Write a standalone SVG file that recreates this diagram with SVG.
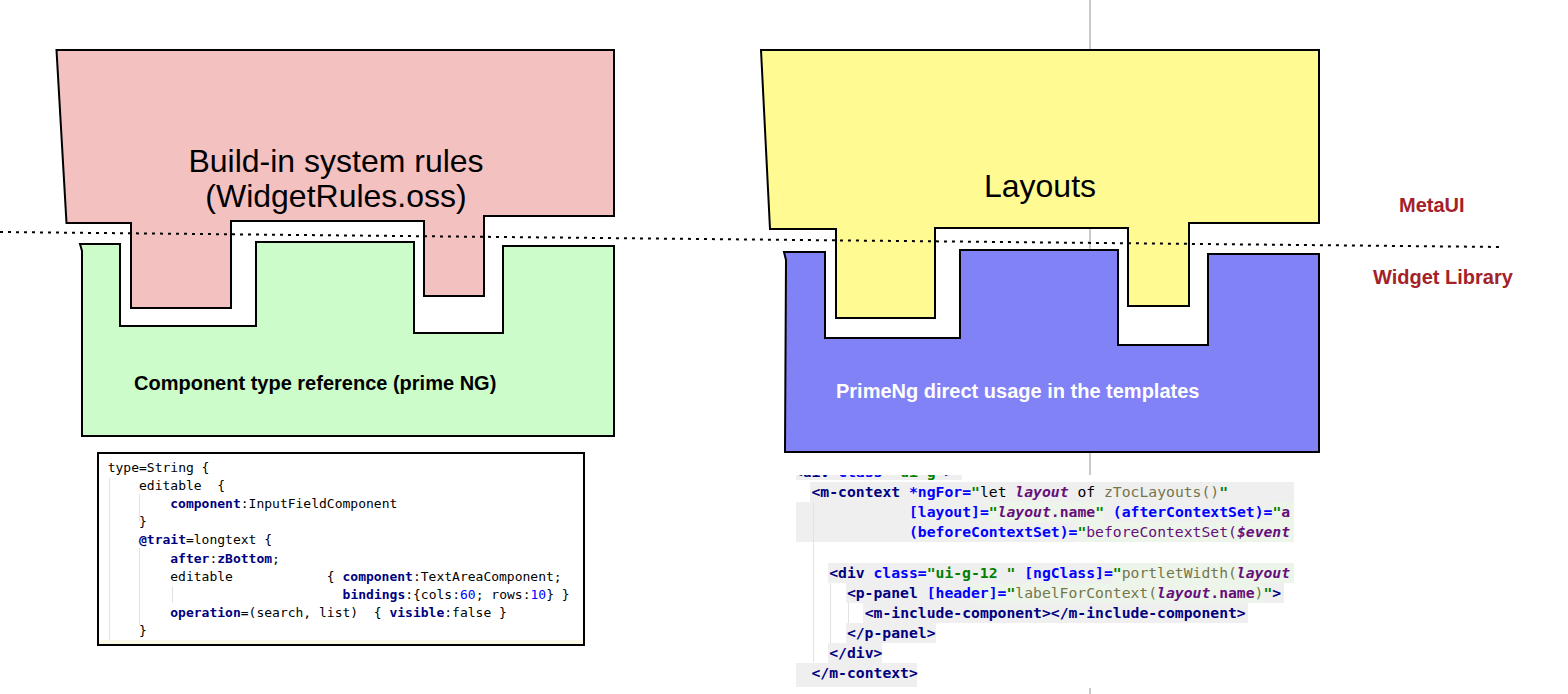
<svg xmlns="http://www.w3.org/2000/svg" width="1568" height="694" viewBox="0 0 1568 694">
<style>
.shape{stroke:#000;stroke-width:2;stroke-linejoin:miter}
.big{font-family:"Liberation Sans",Arial,sans-serif;font-size:32px;fill:#000;text-anchor:middle}
.lbl{font-family:"Liberation Sans",Arial,sans-serif;font-size:20px;font-weight:bold}
.side{fill:#A3222A}
.mono1{font-family:"DejaVu Sans Mono",monospace;font-size:13px;fill:#000;white-space:pre}
.mono2{font-family:"DejaVu Sans Mono",monospace;font-size:14.72px;fill:#000;white-space:pre}
.kw{fill:#000080;font-weight:bold}
.num{fill:#0000ff}
.tg{fill:#000080;font-weight:bold}
.at{fill:#0000ff;font-weight:bold}
.av{fill:#008000;font-weight:bold}
.iv{fill:#660e7a;font-style:italic;font-weight:bold}
.fd{fill:#660e7a;font-weight:bold}
.fn{fill:#660e7a}
.ol{fill:#75754a}
.guide{stroke:#e2e2e2;stroke-width:1}
.rowg{fill:#efefef}
.rowv{fill:#edf5eb}
</style>
<defs>
<clipPath id="clipRight"><rect x="795" y="475" width="499" height="213"/></clipPath>
</defs>
<rect x="0" y="0" width="1568" height="694" fill="#fff"/>
<g id="dividers">
<line x1="1090" y1="0" x2="1090" y2="694" stroke="#c9c9c9" stroke-width="2"/>
</g>
<g id="node-build-in-rules">
<path class="shape" fill="#F4C1C1" d="M56.5,50 L614,50 L614,216 L484,216 L484,296 L424,296 L424,221 L231,221 L231,308 L131,308 L131,223 L66.5,223 Z"/>
<text class="big" x="336" y="172">Build-in system rules</text>
<text class="big" x="336" y="207">(WidgetRules.oss)</text>
</g>
<g id="node-component-type">
<path class="shape" fill="#CCFCC9" d="M80,244 L120,244 L120,326 L256,326 L256,242 L414,242 L414,333 L503,333 L503,246 L614,246 L614,436 L82,436 L82,251 Z"/>
<text class="lbl" x="134" y="390" fill="#000">Component type reference (prime NG)</text>
</g>
<g id="node-layouts">
<path class="shape" fill="#FFFB92" d="M761,50 L1319,50 L1319,223 L1189,223 L1189,306 L1128,306 L1128,228 L935,228 L935,318 L836,318 L836,229 L770,229 Z"/>
<text class="big" x="1040" y="197">Layouts</text>
</g>
<g id="node-primeng">
<path class="shape" fill="#8082F6" d="M784,252 L825,252 L825,338 L960,338 L960,250 L1118,250 L1118,345 L1208,345 L1208,254 L1319,254 L1319,452 L785,452 L786,260 Z"/>
<text class="lbl" x="836" y="398" fill="#fff">PrimeNg direct usage in the templates</text>
</g>
<g id="connectors">
<line x1="0" y1="232" x2="1502" y2="247" stroke="#000" stroke-width="2" stroke-dasharray="3 5"/>
</g>
<g id="label-metaui">
<text class="lbl side" x="1399" y="212">MetaUI</text>
</g>
<g id="label-widget-library">
<text class="lbl side" x="1373" y="284">Widget Library</text>
</g>
<g id="code-left">
<rect x="98" y="453" width="486" height="192" fill="#fff" stroke="#000" stroke-width="2"/>
<rect x="99" y="640" width="484" height="4" fill="#fbf8e6"/>
<line class="guide" x1="109.5" y1="478" x2="109.5" y2="640"/>
<line class="guide" x1="139.5" y1="494" x2="139.5" y2="521"/>
<line class="guide" x1="139.5" y1="548" x2="139.5" y2="625"/>
<line class="guide" x1="172.5" y1="586" x2="172.5" y2="603"/>
<text class="mono1" xml:space="preserve" x="107.7" y="471.7">type=String {</text>
<text class="mono1" xml:space="preserve" x="139" y="489.9">editable  {</text>
<text class="mono1" xml:space="preserve" x="170.3" y="508"><tspan class="kw">component</tspan>:InputFieldComponent</text>
<text class="mono1" xml:space="preserve" x="139" y="526.2">}</text>
<text class="mono1" xml:space="preserve" x="139" y="544.3"><tspan class="kw">@trait</tspan>=longtext {</text>
<text class="mono1" xml:space="preserve" x="170.3" y="562.5"><tspan class="kw">after</tspan>:<tspan class="kw">zBottom</tspan>;</text>
<text class="mono1" xml:space="preserve" x="170.3" y="580.7">editable            { <tspan class="kw">component</tspan>:TextAreaComponent;</text>
<text class="mono1" xml:space="preserve" x="342.6" y="598.9"><tspan class="kw">bindings</tspan>:{cols:<tspan class="num">60</tspan>; rows:<tspan class="num">10</tspan>} }</text>
<text class="mono1" xml:space="preserve" x="170.3" y="617"><tspan class="kw">operation</tspan>=(search, list)  { <tspan class="kw">visible</tspan>:false }</text>
<text class="mono1" xml:space="preserve" x="139" y="635.3">}</text>
</g>
<g id="code-right" clip-path="url(#clipRight)">
<rect x="795" y="474" width="499" height="214" fill="#fff"/>
<rect class="rowg" x="796" y="474" width="166" height="6"/>
<rect class="rowg" x="810" y="482" width="484" height="20"/>
<rect class="rowg" x="796" y="502" width="498" height="40"/>
<rect class="rowv" x="988.7" y="502" width="115.3" height="20"/>
<rect class="rowv" x="1272" y="502" width="22" height="20"/>
<rect class="rowv" x="1077" y="522" width="217" height="20"/>
<rect class="rowg" x="828" y="563" width="466" height="20"/>
<rect class="rowv" x="1112.7" y="563" width="181.3" height="20"/>
<rect class="rowg" x="846" y="583" width="438" height="20"/>
<rect class="rowv" x="971" y="583" width="292" height="20"/>
<rect class="rowg" x="863" y="603" width="385" height="20"/>
<rect class="rowg" x="846" y="623" width="90" height="20"/>
<rect class="rowg" x="828" y="643" width="54" height="20"/>
<rect class="rowg" x="796" y="663" width="121" height="24"/>
<line class="guide" x1="813.5" y1="502" x2="813.5" y2="662"/>
<line class="guide" x1="830.5" y1="583" x2="830.5" y2="643"/>
<line class="guide" x1="848.5" y1="603" x2="848.5" y2="623"/>
<text class="mono2" xml:space="preserve" x="793.8" y="477"><tspan class="tg">&lt;div</tspan> <tspan class="at">class=</tspan><tspan class="av">"ui-g"</tspan><tspan class="tg">&gt;</tspan></text>
<text class="mono2" xml:space="preserve" x="811.5" y="497"><tspan class="tg">&lt;m-context</tspan> <tspan class="at">*ngFor=</tspan><tspan class="av">"</tspan>let <tspan class="iv">layout</tspan> of <tspan class="ol">zTocLayouts()</tspan><tspan class="av">"</tspan></text>
<text class="mono2" xml:space="preserve" x="909" y="517"><tspan class="at">[layout]=</tspan><tspan class="av">"</tspan><tspan class="iv">layout</tspan><tspan class="fd">.name</tspan><tspan class="av">"</tspan><tspan class="at"> (afterContextSet)=</tspan><tspan class="av">"</tspan><tspan class="fd">a</tspan></text>
<text class="mono2" xml:space="preserve" x="909" y="537"><tspan class="at">(beforeContextSet)=</tspan><tspan class="av">"</tspan><tspan class="fn">beforeContextSet(</tspan><tspan class="iv">$event</tspan></text>
<text class="mono2" xml:space="preserve" x="829.2" y="578.3"><tspan class="tg">&lt;div</tspan><tspan class="at"> class=</tspan><tspan class="av">"ui-g-12 "</tspan><tspan class="at"> [ngClass]=</tspan><tspan class="av">"</tspan><tspan class="ol">portletWidth(</tspan><tspan class="iv">layout</tspan></text>
<text class="mono2" xml:space="preserve" x="846.9" y="598.3"><tspan class="tg">&lt;p-panel</tspan><tspan class="at"> [header]=</tspan><tspan class="av">"</tspan><tspan class="ol">labelForContext(</tspan><tspan class="iv">layout</tspan><tspan class="fd">.name</tspan><tspan class="ol">)</tspan><tspan class="av">"</tspan><tspan class="tg">&gt;</tspan></text>
<text class="mono2" xml:space="preserve" x="864.7" y="618.3"><tspan class="tg">&lt;m-include-component&gt;&lt;/m-include-component&gt;</tspan></text>
<text class="mono2" xml:space="preserve" x="846.9" y="638.3"><tspan class="tg">&lt;/p-panel&gt;</tspan></text>
<text class="mono2" xml:space="preserve" x="829.2" y="658.3"><tspan class="tg">&lt;/div&gt;</tspan></text>
<text class="mono2" xml:space="preserve" x="811.5" y="678.3"><tspan class="tg">&lt;/m-context&gt;</tspan></text>
</g>
</svg>
